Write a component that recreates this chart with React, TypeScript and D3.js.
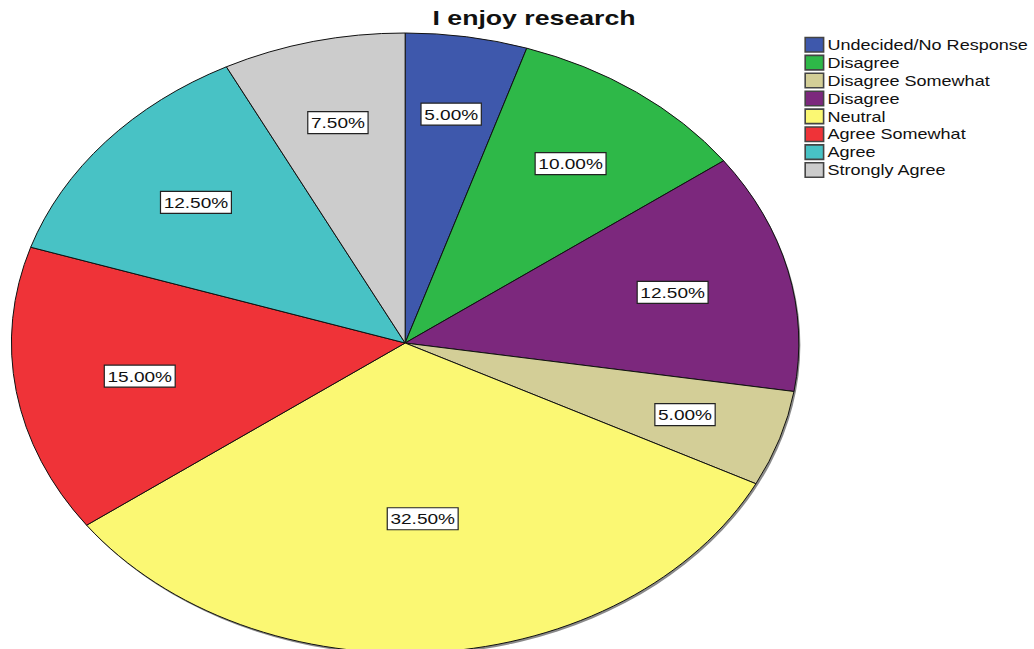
import React, { useEffect, useRef } from 'react';
import { select, pie, arc, PieArcDatum } from 'd3';

// legend order, as SPSS lists it
const categories = [
  'Undecided/No Response',
  'Disagree',
  'Disagree Somewhat',
  'Disagree',
  'Neutral',
  'Agree Somewhat',
  'Agree',
  'Strongly Agree',
];
const percents = [5, 10, 5, 12.5, 32.5, 15, 12.5, 7.5];
const colors = ['#3e58ac', '#2eb848', '#d3ce97', '#7c287d', '#fbf873', '#ef3338', '#48c2c5', '#cccccc'];
// slices go clockwise from 12 o'clock in this order
const pieOrder = [0, 1, 3, 2, 4, 5, 6, 7];

const title = 'I enjoy research';

const WIDTH = 1034;
const HEIGHT = 649;
// the original picture was stretched sideways
const STRETCH = 1.27;
const FONT = '"Liberation Sans", Arial, sans-serif';

interface Slice {
  idx: number;
  value: number;
}

const App: React.FC = () => {
  const svgRef = useRef<SVGSVGElement | null>(null);

  useEffect(() => {
    if (!svgRef.current) return;
    select(svgRef.current).selectAll('*').remove();

    const svg = select(svgRef.current);
    const root = svg.append('g').attr('transform', `scale(${STRETCH},1)`);

    const cx = 319;
    const cy = 343;
    const r = 310;

    const slices: Slice[] = pieOrder.map((i) => ({ idx: i, value: percents[i] }));
    const arcs = pie<Slice>().sort(null).value((d) => d.value)(slices);
    const arcGen = arc<PieArcDatum<Slice>>().innerRadius(0).outerRadius(r);

    const pieG = root.append('g').attr('transform', `translate(${cx},${cy})`);

    // faint shadow under the pie
    pieG.append('circle')
      .attr('cx', 1.2)
      .attr('cy', 2)
      .attr('r', r)
      .attr('fill', '#8a8a8a');

    pieG.selectAll('path.slice')
      .data(arcs)
      .enter()
      .append('path')
      .attr('class', 'slice')
      .attr('d', (d) => arcGen(d) as string)
      .attr('fill', (d) => colors[d.data.idx])
      .attr('stroke', '#111')
      .attr('stroke-width', 1)
      .attr('vector-effect', 'non-scaling-stroke');

    // value labels
    const labelG = pieG.selectAll('g.lbl')
      .data(arcs)
      .enter()
      .append('g')
      .attr('class', 'lbl')
      .attr('transform', (d) => {
        const mid = (d.startAngle + d.endAngle) / 2;
        const frac = d.data.value / 100;
        const k = 0.78 - 0.65 * frac;
        return `translate(${Math.sin(mid) * r * k},${-Math.cos(mid) * r * k})`;
      });

    const rects = labelG.append('rect')
      .attr('fill', '#fff')
      .attr('stroke', '#222')
      .attr('stroke-width', 1.2)
      .attr('vector-effect', 'non-scaling-stroke');

    const texts = labelG.append('text')
      .attr('text-anchor', 'middle')
      .attr('dy', '0.36em')
      .style('font-family', FONT)
      .style('font-size', '15px')
      .attr('fill', '#111')
      .text((d) => `${d.data.value.toFixed(2)}%`);

    texts.each(function (_d, i) {
      const w = (this as SVGTextElement).getComputedTextLength();
      select(rects.nodes()[i])
        .attr('x', -w / 2 - 2.5)
        .attr('y', -11)
        .attr('width', w + 5)
        .attr('height', 22);
    });

    // title
    root.append('text')
      .attr('x', 420.5)
      .attr('y', 25)
      .attr('text-anchor', 'middle')
      .style('font-family', FONT)
      .style('font-size', '21px')
      .style('font-weight', 'bold')
      .attr('fill', '#111')
      .text(title);

    // legend
    const legend = root.append('g').attr('transform', 'translate(634,37.5)');
    const rows = legend.selectAll('g')
      .data(categories)
      .enter()
      .append('g')
      .attr('transform', (_d, i) => `translate(0,${i * 17.9})`);

    rows.append('rect')
      .attr('width', 14.5)
      .attr('height', 14.5)
      .attr('fill', (_d, i) => colors[i])
      .attr('stroke', '#444')
      .attr('stroke-width', 1.6)
      .attr('vector-effect', 'non-scaling-stroke');

    rows.append('text')
      .attr('x', 17.5)
      .attr('y', 7.5)
      .attr('dy', '0.35em')
      .style('font-family', FONT)
      .style('font-size', '14.2px')
      .attr('fill', '#111')
      .text((d) => d);
  }, []);

  return (
    <svg
      ref={svgRef}
      width={WIDTH}
      height={HEIGHT}
      style={{ position: 'absolute', left: 0, top: 0, background: '#fff' }}
    ></svg>
  );
};

export default App;
